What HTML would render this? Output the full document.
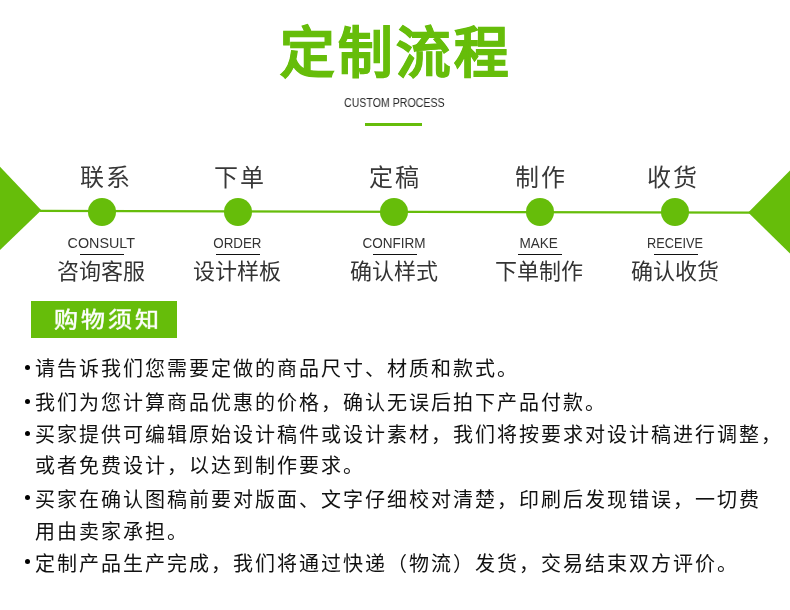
<!DOCTYPE html>
<html lang="zh-CN"><head><meta charset="utf-8">
<style>
*{margin:0;padding:0;box-sizing:border-box}
html,body{width:790px;height:610px;background:#fff;overflow:hidden}
body{position:relative;-webkit-font-smoothing:antialiased;font-family:"Liberation Sans",sans-serif;color:#1a1a1a}
.a{position:absolute;white-space:nowrap;will-change:transform}
#title{left:280px;top:18.5px;font-size:54.5px;font-weight:bold;color:#66bd0a;line-height:70px;letter-spacing:3px;-webkit-text-stroke:0.9px #66bd0a}
#sub{left:343.6px;top:94.5px;font-size:12px;color:#2a2a2a;line-height:16px;transform:scaleX(0.884);transform-origin:0 0}
#bar{left:365px;top:123px;width:57px;height:3px;background:#66bd0a}
.top{font-size:24px;line-height:30px;top:163px;width:80px;text-align:center;color:#383838;letter-spacing:2px;text-indent:2px}
.en{font-size:14.6px;line-height:18px;top:233.5px;width:100px;text-align:center;color:#333}
.en span{display:inline-block}
.ul{top:254px;width:44px;height:1px;background:#111}
.cn{font-size:22px;line-height:28px;top:257.7px;width:100px;text-align:center;color:#333}
#box{left:31px;top:301px;width:146px;height:37px;background:#66bd0a}
#boxt{left:54px;top:304px;font-size:24px;line-height:30px;color:#fff;letter-spacing:3px;-webkit-text-stroke:0.6px #fff;transform:scaleY(0.905);transform-origin:0 26px}
.ln{left:35px;font-size:20px;line-height:32px;letter-spacing:2px;color:#111}
.dot{position:absolute;width:5px;height:5px;border-radius:50%;background:#000}
</style></head><body>
<div class="a" id="title">定制流程</div>
<div class="a" id="sub">CUSTOM PROCESS</div>
<div class="a" id="bar"></div>

<svg class="a" style="left:0;top:0" width="790" height="610">
<polygon points="0,166.8 41.3,210.3 0,250" fill="#66bd0a"/>
<polygon points="790,170.6 748.2,212.6 790,253.6" fill="#66bd0a"/>
<line x1="40" y1="210.9" x2="750" y2="212.7" stroke="#66bd0a" stroke-width="2.2"/>
<circle cx="102" cy="212" r="14" fill="#66bd0a"/>
<circle cx="238" cy="212" r="14" fill="#66bd0a"/>
<circle cx="394" cy="212" r="14" fill="#66bd0a"/>
<circle cx="540" cy="212" r="14" fill="#66bd0a"/>
<circle cx="675" cy="212" r="14" fill="#66bd0a"/>
</svg>

<div class="a top" style="left:64.8px">联系</div>
<div class="a top" style="left:199.4px">下单</div>
<div class="a top" style="left:353.7px">定稿</div>
<div class="a top" style="left:500.1px">制作</div>
<div class="a top" style="left:632px">收货</div>

<div class="a en" style="left:50.65px"><span style="transform:scaleX(0.982)">CONSULT</span></div>
<div class="a en" style="left:187.15px"><span style="transform:scaleX(0.915)">ORDER</span></div>
<div class="a en" style="left:343.55px"><span style="transform:scaleX(0.928)">CONFIRM</span></div>
<div class="a en" style="left:489.15px"><span style="transform:scaleX(0.93)">MAKE</span></div>
<div class="a en" style="left:625px"><span style="transform:scaleX(0.873)">RECEIVE</span></div>

<div class="a ul" style="left:80px"></div>
<div class="a ul" style="left:216px"></div>
<div class="a ul" style="left:373px"></div>
<div class="a ul" style="left:518px"></div>
<div class="a ul" style="left:654px"></div>

<div class="a cn" style="left:51px">咨询客服</div>
<div class="a cn" style="left:187px">设计样板</div>
<div class="a cn" style="left:344px">确认样式</div>
<div class="a cn" style="left:489px">下单制作</div>
<div class="a cn" style="left:625px">确认收货</div>

<div class="a" id="box"></div>
<div class="a" id="boxt">购物须知</div>

<div class="a ln" style="top:352.9px">请告诉我们您需要定做的商品尺寸、材质和款式。</div>
<div class="a ln" style="top:386.7px">我们为您计算商品优惠的价格，确认无误后拍下产品付款。</div>
<div class="a ln" style="top:418.5px">买家提供可编辑原始设计稿件或设计素材，我们将按要求对设计稿进行调整，</div>
<div class="a ln" style="top:450.3px">或者免费设计，以达到制作要求。</div>
<div class="a ln" style="top:484px">买家在确认图稿前要对版面、文字仔细校对清楚，印刷后发现错误，一切费</div>
<div class="a ln" style="top:515.7px">用由卖家承担。</div>
<div class="a ln" style="top:547.8px">定制产品生产完成，我们将通过快递（物流）发货，交易结束双方评价。</div>

<div class="dot" style="left:25px;top:365px"></div>
<div class="dot" style="left:25px;top:399px"></div>
<div class="dot" style="left:25px;top:431px"></div>
<div class="dot" style="left:25px;top:495px"></div>
<div class="dot" style="left:25px;top:559px"></div>
</body></html>
